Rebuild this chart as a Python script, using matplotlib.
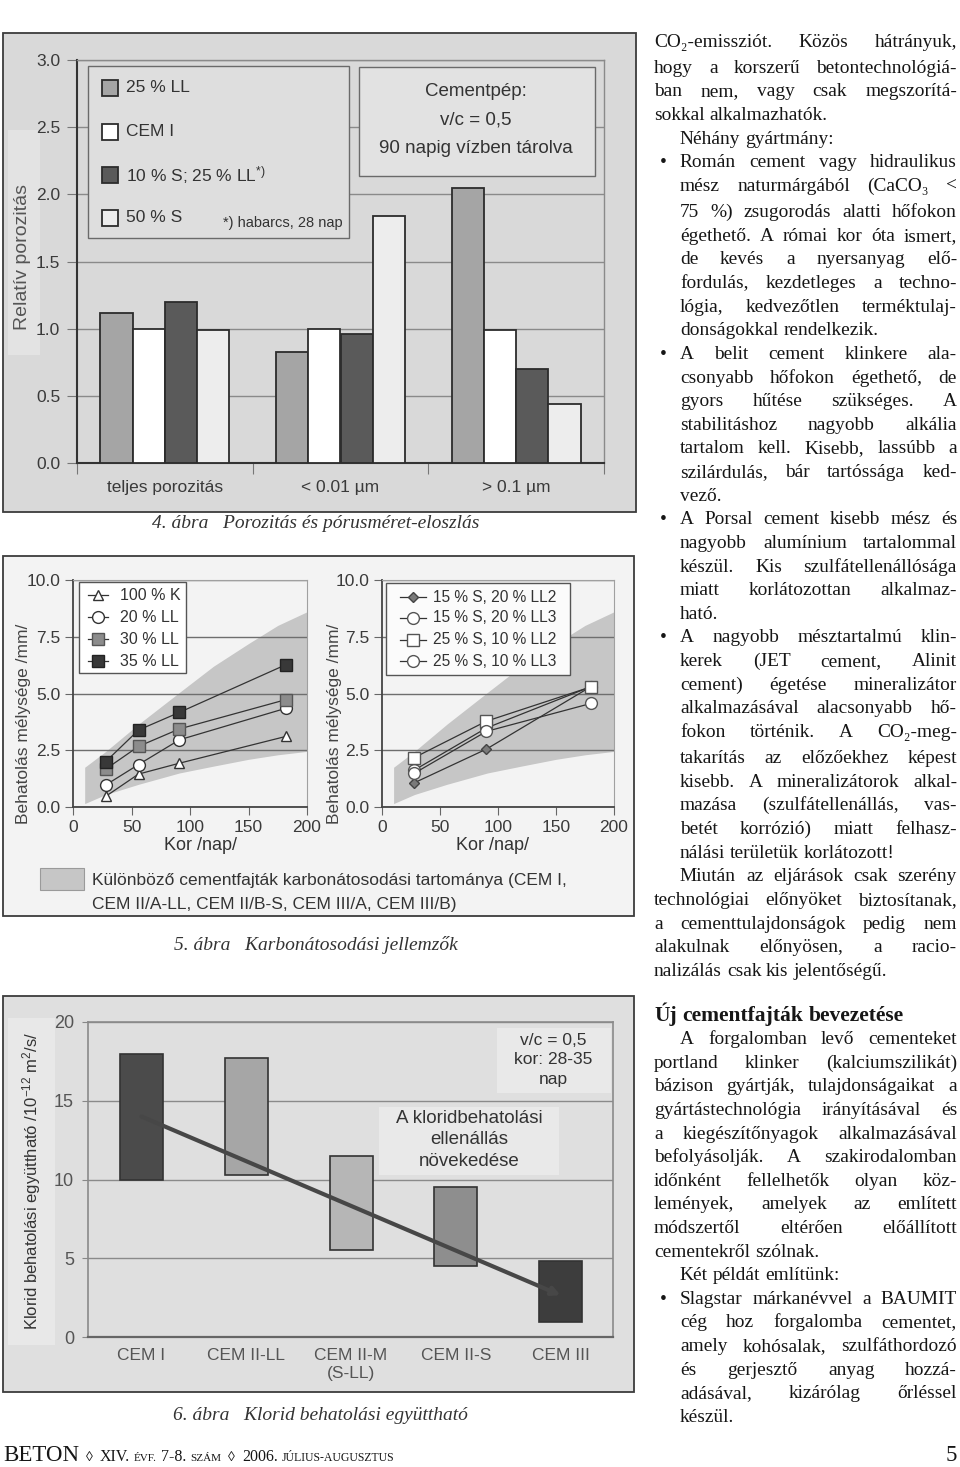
import matplotlib
matplotlib.use('Agg')
import matplotlib.pyplot as plt
from matplotlib.patches import Rectangle
import numpy as np

plt.rcParams['mathtext.fontset'] = 'custom'
plt.rcParams['mathtext.rm'] = 'Liberation Sans'
plt.rcParams['mathtext.it'] = 'Liberation Sans:italic'
plt.rcParams['mathtext.bf'] = 'Liberation Sans:bold'

SANS = ['Liberation Sans', 'DejaVu Sans']
NARROW = ['Liberation Sans', 'DejaVu Sans']
SERIF1 = 'Liberation Serif'
SERIF = ['Liberation Serif', 'DejaVu Serif']

# ---------------- data: Fig. 4 (porosity) ----------------
por_groups = ['teljes porozitás', '< 0.01 µm', '> 0.1 µm']
por_series = ['25 % LL', 'CEM I', '10 % S; 25 % LL$^{*)}$', '50 % S']
por_ll25 = [1.12, 0.83, 2.05]
por_cem1 = [1.00, 1.00, 0.99]
por_s10_ll25 = [1.20, 0.96, 0.70]
por_s50 = [0.99, 1.84, 0.44]
por_yticks = [0.0, 0.5, 1.0, 1.5, 2.0, 2.5, 3.0]

# ---------------- data: Fig. 5 (carbonation) ----------------
carb_days_a = [28, 56, 91, 182]
carb_k100 = [0.47, 1.45, 1.93, 3.11]
carb_ll20 = [0.97, 1.87, 2.96, 4.35]
carb_ll30 = [1.67, 2.67, 3.44, 4.73]
carb_ll35 = [2.00, 3.39, 4.17, 6.27]
carb_labels_a = ['100 % K', '20 % LL', '30 % LL', '35 % LL']
carb_days_b = [28, 90, 180]
carb_s15_ll2 = [1.07, 2.55, 5.30]
carb_s15_ll3 = [1.63, 3.48, 5.30]
carb_s25_ll2 = [2.18, 3.78, 5.29]
carb_s25_ll3 = [1.49, 3.33, 4.56]
carb_labels_b = ['15 % S, 20 % LL2', '15 % S, 20 % LL3', '25 % S, 10 % LL2', '25 % S, 10 % LL3']
band_days = [10, 28, 56, 91, 120, 150, 175, 200]
band_low = [0.15, 0.55, 1.0, 1.5, 1.8, 2.1, 2.3, 2.45]
band_high = [1.75, 2.45, 3.65, 5.05, 6.2, 7.2, 8.0, 8.6]
carb_xticks = [0, 50, 100, 150, 200]
carb_yticks = [0.0, 2.5, 5.0, 7.5, 10.0]

# ---------------- data: Fig. 6 (chloride) ----------------
cl_types = ['CEM I', 'CEM II-LL', 'CEM II-M\n(S-LL)', 'CEM II-S', 'CEM III']
cl_low = [10.0, 10.3, 5.5, 4.5, 0.95]
cl_high = [18.0, 17.7, 11.5, 9.5, 4.85]
cl_trend = [14.0, 2.65]
cl_yticks = [0, 5, 10, 15, 20]

# ---------------- text column ----------------
col1_lines = [
    ('CO₂-emissziót. Közös hátrányuk,', 'body', True),
    ('hogy a korszerű betontechnológiá-', 'body', True),
    ('ban nem, vagy csak megszorítá-', 'body', True),
    ('sokkal alkalmazhatók.', 'body', False),
    ('Néhány gyártmány:', 'indent', False),
    ('Román cement vagy hidraulikus', 'bullet', True),
    ('mész naturmárgából (CaCO₃ <', 'hang', True),
    ('75 %) zsugorodás alatti hőfokon', 'hang', True),
    ('égethető. A római kor óta ismert,', 'hang', True),
    ('de kevés a nyersanyag elő-', 'hang', True),
    ('fordulás, kezdetleges a techno-', 'hang', True),
    ('lógia, kedvezőtlen terméktulaj-', 'hang', True),
    ('donságokkal rendelkezik.', 'hang', False),
    ('A belit cement klinkere ala-', 'bullet', True),
    ('csonyabb hőfokon égethető, de', 'hang', True),
    ('gyors hűtése szükséges. A', 'hang', True),
    ('stabilitáshoz nagyobb alkália', 'hang', True),
    ('tartalom kell. Kisebb, lassúbb a', 'hang', True),
    ('szilárdulás, bár tartóssága ked-', 'hang', True),
    ('vező.', 'hang', False),
    ('A Porsal cement kisebb mész és', 'bullet', True),
    ('nagyobb alumínium tartalommal', 'hang', True),
    ('készül. Kis szulfátellenállósága', 'hang', True),
    ('miatt korlátozottan alkalmaz-', 'hang', True),
    ('ható.', 'hang', False),
    ('A nagyobb mésztartalmú klin-', 'bullet', True),
    ('kerek (JET cement, Alinit', 'hang', True),
    ('cement) égetése mineralizátor', 'hang', True),
    ('alkalmazásával alacsonyabb hő-', 'hang', True),
    ('fokon történik. A CO₂-meg-', 'hang', True),
    ('takarítás az előzőekhez képest', 'hang', True),
    ('kisebb. A mineralizátorok alkal-', 'hang', True),
    ('mazása (szulfátellenállás, vas-', 'hang', True),
    ('betét korrózió) miatt felhasz-', 'hang', True),
    ('nálási területük korlátozott!', 'hang', False),
    ('Miután az eljárások csak szerény', 'indent', True),
    ('technológiai előnyöket biztosítanak,', 'body', True),
    ('a cementtulajdonságok pedig nem', 'body', True),
    ('alakulnak előnyösen, a racio-', 'body', True),
    ('nalizálás csak kis jelentőségű.', 'body', False),
]
col2_lines = [
    ('Új cementfajták bevezetése', 'head', False),
    ('A forgalomban levő cementeket', 'indent', True),
    ('portland klinker (kalciumszilikát)', 'body', True),
    ('bázison gyártják, tulajdonságaikat a', 'body', True),
    ('gyártástechnológia irányításával és', 'body', True),
    ('a kiegészítőnyagok alkalmazásával', 'body', True),
    ('befolyásolják. A szakirodalomban', 'body', True),
    ('időnként fellelhetők olyan köz-', 'body', True),
    ('lemények, amelyek az említett', 'body', True),
    ('módszertől eltérően előállított', 'body', True),
    ('cementekről szólnak.', 'body', False),
    ('Két példát említünk:', 'indent', False),
    ('Slagstar márkanévvel a BAUMIT', 'bullet', True),
    ('cég hoz forgalomba cementet,', 'hang', True),
    ('amely kohósalak, szulfáthordozó', 'hang', True),
    ('és gerjesztő anyag hozzá-', 'hang', True),
    ('adásával, kizárólag őrléssel', 'hang', True),
    ('készül.', 'hang', False),
]
footer_parts = [('BETON', 16.5), ('◊', 10), ('XIV.', 11.5), ('ÉVF.', 8), ('7-8.', 11.5),
                ('SZÁM', 8), ('◊', 10), ('2006.', 11.5), ('JÚLIUS-AUGUSZTUS', 8.5)]

# =====================================================================
W, H = 960, 1467
fig = plt.figure(figsize=(W / 100, H / 100), dpi=100)
fig.patch.set_facecolor('white')


def rect(x0, y0, x1, y1):
    return [x0 / W, 1 - y1 / H, (x1 - x0) / W, (y1 - y0) / H]


def pix_axes(z):
    a = fig.add_axes([0, 0, 1, 1])
    a.set_xlim(0, W)
    a.set_ylim(H, 0)
    a.axis('off')
    a.set_zorder(z)
    return a


bg = pix_axes(0)
ov = pix_axes(10)
R = fig.canvas.get_renderer()

# ---------------------------- Fig. 4 ----------------------------
bg.add_patch(Rectangle((3, 33), 633, 479, fc='#d9d9d9', ec='#3c3c3c', lw=1.3))
bg.add_patch(Rectangle((8, 130), 32, 225, fc='#e3e3e3', ec='none'))
bg.text(23, 257, 'Relatív porozitás', rotation=90, ha='center', va='center',
        fontsize=14, family=SANS, color='#555555')

ax4 = fig.add_axes(rect(77, 60, 604, 463))
ax4.set_zorder(1)
ax4.set_facecolor('none')
xg = np.arange(len(por_groups))
bw = 0.184
series4 = [por_ll25, por_cem1, por_s10_ll25, por_s50]
cols4 = ['#a5a5a5', '#ffffff', '#5a5a5a', '#ededed']
for i, (vals, c) in enumerate(zip(series4, cols4)):
    ax4.bar(xg + (i - 1.5) * bw, vals, bw, color=c, edgecolor='#2c2c2c',
            linewidth=1.3, zorder=3)
ax4.set_xlim(-0.5, 2.5)
ax4.set_ylim(0, 3.0)
ax4.set_yticks(por_yticks)
ax4.set_yticklabels([f'{v:.1f}' for v in por_yticks], fontsize=12.5,
                    family=NARROW, color='#3a3a3a')
ax4.yaxis.grid(True, color='#8a8a8a', lw=1.0)
ax4.set_axisbelow(True)
ax4.set_xticks([-0.5, 0.5, 1.5, 2.5])
ax4.set_xticklabels([])
ax4.set_xticks(xg, minor=True)
ax4.set_xticklabels(por_groups, minor=True, fontsize=12.5, family=NARROW, color='#3a3a3a')
ax4.tick_params(axis='x', which='major', length=8, color='#777777', direction='out')
ax4.tick_params(axis='x', which='minor', length=0, pad=12)
ax4.tick_params(axis='y', length=7, color='#777777', pad=5)
for s in ['top', 'right']:
    ax4.spines[s].set_color('#8a8a8a')
    ax4.spines[s].set_linewidth(1.0)
for s in ['left', 'bottom']:
    ax4.spines[s].set_color('#333333')
    ax4.spines[s].set_linewidth(1.5)

# legend box + note box
ov.add_patch(Rectangle((88, 66), 261, 172, fc='#dedede', ec='#6a6a6a', lw=1.0))
leg_y = [88, 132, 175, 218]
for lab, c, y in zip(por_series, cols4, leg_y):
    ov.add_patch(Rectangle((102, y - 8), 16, 16, fc=c, ec='#2c2c2c', lw=1.3))
    ov.text(126, y, lab, ha='left', va='center', fontsize=12.5, family=NARROW, color='#333333')
ov.text(343, 223, '*) habarcs, 28 nap', ha='right', va='center', fontsize=10.5,
        family=SANS, color='#333333')
ov.add_patch(Rectangle((359, 67), 236, 109, fc='#e2e2e2', ec='#6a6a6a', lw=1.0))
ov.text(476, 120, 'Cementpép:\nv/c = 0,5\n90 napig vízben tárolva', ha='center', va='center',
        fontsize=13.5, family=SANS, color='#333333', linespacing=1.85)

bg.text(316, 523, '4. ábra   Porozitás és pórusméret-eloszlás', ha='center', va='center',
        fontsize=14, style='italic', family=SERIF1, color='#333333')

# ---------------------------- Fig. 5 ----------------------------
BAND = '#c6c6c6'
bg.add_patch(Rectangle((3, 556), 631, 360, fc='#f3f3f3', ec='#3c3c3c', lw=1.3))


def carb_axes(x0, x1):
    ax = fig.add_axes(rect(x0, 580, x1, 807))
    ax.set_zorder(1)
    ax.set_facecolor('none')
    ax.fill_between(band_days, band_low, band_high, color=BAND, lw=0, zorder=1)
    ax.set_xlim(0, 200)
    ax.set_ylim(0, 10)
    ax.set_xticks(carb_xticks)
    ax.set_xticklabels([str(v) for v in carb_xticks], fontsize=12.5, family=NARROW, color='#3a3a3a')
    ax.set_yticks(carb_yticks)
    ax.set_yticklabels([f'{v:.1f}' for v in carb_yticks], fontsize=12.5, family=NARROW, color='#3a3a3a')
    ax.yaxis.grid(True, color='#6e6e6e', lw=1.0)
    ax.tick_params(length=6, color='#666666', pad=3)
    for s in ['top', 'right']:
        ax.spines[s].set_color('#a0a0a0')
        ax.spines[s].set_linewidth(0.8)
    for s in ['left', 'bottom']:
        ax.spines[s].set_color('#444444')
        ax.spines[s].set_linewidth(1.3)
    return ax


ax5a = carb_axes(73, 307)
sty_a = [dict(marker='^', mfc='white', mec='#333333', ms=7.5),
         dict(marker='o', mfc='white', mec='#333333', ms=8.5),
         dict(marker='s', mfc='#8c8c8c', mec='#555555', ms=8),
         dict(marker='s', mfc='#383838', mec='#222222', ms=8)]
for vals, st in zip([carb_k100, carb_ll20, carb_ll30, carb_ll35], sty_a):
    ax5a.plot(carb_days_a, vals, color='#333333', lw=0.9, zorder=3, **st)

ax5b = carb_axes(382, 614)
sty_b = [dict(marker='D', mfc='#7a7a7a', mec='#444444', ms=5.5),
         dict(marker='o', mfc='white', mec='#555555', ms=8.5),
         dict(marker='s', mfc='white', mec='#555555', ms=8.5),
         dict(marker='o', mfc='white', mec='#555555', ms=8.5)]
for vals, st in zip([carb_s15_ll2, carb_s15_ll3, carb_s25_ll2, carb_s25_ll3], sty_b):
    ax5b.plot(carb_days_b, vals, color='#333333', lw=0.9, zorder=3, **st)

# legends
ov.add_patch(Rectangle((79, 582), 107, 91, fc='white', ec='#555555', lw=1.0))
for lab, st, y in zip(carb_labels_a, sty_a, [595, 617, 639, 661]):
    ov.plot([88, 108], [y, y], color='#333333', lw=0.9)
    ov.plot([98], [y], **st)
    ov.text(120, y, lab, ha='left', va='center', fontsize=11.5, family=NARROW, color='#333333')
ov.add_patch(Rectangle((386, 583), 184, 92, fc='#fbfbfb', ec='#555555', lw=1.0))
for lab, st, y in zip(carb_labels_b, sty_b, [597, 618, 640, 661]):
    ov.plot([400, 426], [y, y], color='#333333', lw=0.9)
    ov.plot([413], [y], **st)
    ov.text(433, y, lab, ha='left', va='center', fontsize=11.2, family=NARROW, color='#333333')

for xl in (24, 335):
    bg.text(xl, 724, 'Behatolás mélysége /mm/', rotation=90, ha='center', va='center',
            fontsize=12.5, family=SANS, color='#444444')
for xk in (200, 492):
    bg.text(xk, 845, 'Kor /nap/', ha='center', va='center', fontsize=13, family=SANS, color='#333333')
bg.add_patch(Rectangle((40, 868), 44, 22, fc=BAND, ec='#9a9a9a', lw=0.8))
bg.text(92, 880, 'Különböző cementfajták karbonátosodási tartománya (CEM I,', ha='left',
        va='center', fontsize=12.5, family=SANS, color='#333333')
bg.text(92, 904, 'CEM II/A-LL, CEM II/B-S, CEM III/A, CEM III/B)', ha='left',
        va='center', fontsize=12.5, family=SANS, color='#333333')
bg.text(316, 945, '5. ábra   Karbonátosodási jellemzők', ha='center', va='center',
        fontsize=14, style='italic', family=SERIF1, color='#333333')

# ---------------------------- Fig. 6 ----------------------------
bg.add_patch(Rectangle((3, 996), 631, 396, fc='#dfdfdf', ec='#3c3c3c', lw=1.3))
bg.add_patch(Rectangle((8, 1018), 47, 327, fc='#e8e8e8', ec='none'))
bg.text(32, 1181, 'Klorid behatolási együttható /10$^{-12}$ m$^{2}$/s/', rotation=90,
        ha='center', va='center', fontsize=12, family=SANS, color='#333333')

ax6 = fig.add_axes(rect(88, 1022, 613, 1337))
ax6.set_zorder(1)
ax6.set_facecolor('none')
xc = np.arange(len(cl_types))
cl_cols = ['#4b4b4b', '#a6a6a6', '#b6b6b6', '#8e8e8e', '#3d3d3d']
ax6.bar(xc, np.array(cl_high) - np.array(cl_low), 0.41, bottom=cl_low, color=cl_cols,
        edgecolor='#333333', linewidth=1.2, zorder=3)
ax6.annotate('', xy=(xc[-1], cl_trend[1]), xytext=(xc[0], cl_trend[0]),
             arrowprops=dict(arrowstyle='-|>', color='#474747', lw=3, mutation_scale=12,
                             shrinkA=0, shrinkB=0), zorder=4)
ax6.set_xlim(-0.51, 4.5)
ax6.set_ylim(0, 20)
ax6.set_yticks(cl_yticks)
ax6.set_yticklabels([str(v) for v in cl_yticks], fontsize=13, family=NARROW, color='#555555')
ax6.yaxis.grid(True, color='#8a8a8a', lw=1.0)
ax6.set_axisbelow(True)
ax6.set_xticks(xc)
ax6.set_xticklabels(cl_types, fontsize=12.5, family=NARROW, color='#555555', linespacing=1.25)
ax6.tick_params(axis='x', length=0, pad=8)
ax6.tick_params(axis='y', length=4, color='#888888', pad=6)
for s in ['top', 'right', 'left']:
    ax6.spines[s].set_color('#8a8a8a')
    ax6.spines[s].set_linewidth(1.2)
ax6.spines['bottom'].set_color('#666666')
ax6.spines['bottom'].set_linewidth(1.6)

ov.add_patch(Rectangle((497, 1028), 114, 65, fc='#e9e9e9', ec='none'))
ov.text(553, 1060, 'v/c = 0,5\nkor: 28-35\nnap', ha='center', va='center', fontsize=12.5,
        family=SANS, color='#333333', linespacing=1.38)
ov.add_patch(Rectangle((379, 1107), 180, 68, fc='#e9e9e9', ec='none'))
ov.text(469, 1140, 'A kloridbehatolási\nellenállás\nnövekedése', ha='center', va='center',
        fontsize=13.5, family=SANS, color='#333333', linespacing=1.35)
bg.text(320, 1415, '6. ábra   Klorid behatolási együttható', ha='center', va='center',
        fontsize=14, style='italic', family=SERIF1, color='#333333')

# ---------------------------- text column ----------------------------
XL, XR = 654, 957
X_IND, X_BUL = 680, 660
HEAD_W = 251


def measure(s, **kw):
    t = bg.text(0, 0, s, **kw)
    w = t.get_window_extent(renderer=R).width
    t.remove()
    return w


def fam_for(s):
    return SERIF if any(ch in s for ch in '₂₃') else SERIF1


def line_start(kind):
    return X_IND if kind in ('indent', 'bullet', 'hang') else XL


BASE_FS = 14.0
ratio = 1.0
for txt, kind, _ in col1_lines + col2_lines:
    if kind == 'head':
        continue
    nat = measure(txt, fontsize=BASE_FS, family=fam_for(txt))
    ratio = min(ratio, (XR - line_start(kind)) / nat)
FS = BASE_FS * min(1.0, ratio * 0.995)
HEAD_FS = FS * HEAD_W / measure(col2_lines[0][0], fontsize=FS, family=SERIF1, weight='bold')


def place_line(txt, kind, justify, y):
    base = dict(fontsize=HEAD_FS if kind == 'head' else FS, color='#161616',
                weight='bold' if kind == 'head' else 'normal')
    x0 = line_start(kind)
    if kind == 'bullet':
        bg.text(X_BUL + 3, y, '•', ha='center', va='baseline', family=SERIF1, **base)
    words = txt.split(' ')
    widths = [measure(w, family=fam_for(w), **base) for w in words]
    space = measure('a a', family=SERIF1, **base) - measure('aa', family=SERIF1, **base)
    if justify and len(words) > 1:
        gap = (XR - x0 - sum(widths)) / (len(words) - 1)
    else:
        gap = space
    x = x0
    for w, wd in zip(words, widths):
        bg.text(x, y, w, ha='left', va='baseline', family=fam_for(w), **base)
        x += wd + gap


y = 46.7
step = 23.63
for txt, kind, just in col1_lines:
    place_line(txt, kind, just, y)
    y += step + (2.5 if ('₂' in txt or '₃' in txt) else 0)
y = 1020.7
for txt, kind, just in col2_lines:
    place_line(txt, kind, just, y)
    y += 23.6

# footer
x = 3
n_parts = len(footer_parts)
for i, (s, fs) in enumerate(footer_parts):
    kw = dict(fontsize=fs, family=SERIF, color='#161616')
    bg.text(x, 1461, s, ha='left', va='baseline', **kw)
    nxt_sep = (i + 1 < n_parts and footer_parts[i + 1][0] == '◊')
    x += measure(s, **kw) + (7 if (s == '◊' or i == 0 or nxt_sep) else 4)
bg.text(957, 1461, '5', ha='right', va='baseline', fontsize=16.5, family=SERIF1, color='#161616')

fig.savefig('out.png', dpi=100, facecolor='white')
